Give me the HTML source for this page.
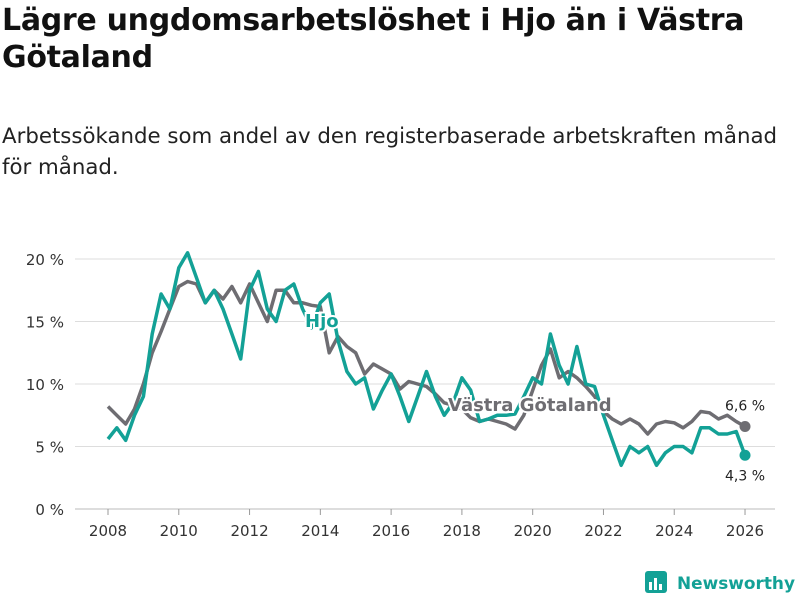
<!DOCTYPE html>
<html><head><meta charset="utf-8"><style>
body{margin:0;width:800px;height:600px;background:#fff;font-family:"Liberation Sans","DejaVu Sans",sans-serif;overflow:hidden;position:relative}
h1{position:absolute;left:2px;top:2px;margin:0;font-size:30px;line-height:37px;font-weight:bold;color:#111;font-family:"DejaVu Sans",sans-serif;letter-spacing:-0.3px}
.sub{position:absolute;left:2px;top:121px;font-size:21.3px;line-height:31px;color:#222;font-family:"DejaVu Sans",sans-serif}
svg{position:absolute;left:0;top:0}
</style></head><body>
<h1>Lägre ungdomsarbetslöshet i Hjo än i Västra<br>Götaland</h1>
<div class="sub">Arbetssökande som andel av den registerbaserade arbetskraften månad<br>för månad.</div>
<svg id="c" width="800" height="600"></svg>
<script>
const startYear=2008, step=0.25;
const vg=[8.2,7.5,6.8,8.0,10,12.5,14.2,16.0,17.8,18.2,18.0,16.5,17.5,16.8,17.8,16.5,18,16.5,15,17.5,17.5,16.5,16.5,16.3,16.2,12.5,13.8,13,12.5,10.8,11.6,11.2,10.8,9.6,10.2,10.0,9.8,9.2,8.5,8.3,8.0,7.3,7.0,7.2,7.0,6.8,6.4,7.5,9.5,11.5,12.8,10.5,11,10.5,9.8,9.0,7.8,7.2,6.8,7.2,6.8,6.0,6.8,7.0,6.9,6.5,7.0,7.8,7.7,7.2,7.5,7.0,6.6];
const hjo=[5.6,6.5,5.5,7.5,9,14,17.2,16,19.3,20.5,18.5,16.5,17.5,16,14,12,17.5,19,16,15,17.5,18,16,14.5,16.5,17.2,13.5,11,10,10.5,8,9.5,10.8,9,7,9,11,9,7.5,8.5,10.5,9.5,7,7.2,7.5,7.5,7.6,9,10.5,10,14,11.5,10,13,10,9.8,7.5,5.5,3.5,5.0,4.5,5.0,3.5,4.5,5,5.0,4.5,6.5,6.5,6.0,6.0,6.2,4.3];
const yTicks=[0,5,10,15,20];
const xTicks=[2008,2010,2012,2014,2016,2018,2020,2022,2024,2026];
const X=t=>108+(t-2008)*35.39, Y=v=>509-v*12.5;
const NS="http://www.w3.org/2000/svg", svg=document.getElementById('c');
function mk(tag,at,parent){const e=document.createElementNS(NS,tag);for(const k in at)e.setAttribute(k,at[k]);(parent||svg).appendChild(e);return e;}
yTicks.forEach(v=>{
 const l=mk('line',{x1:75,x2:775,y1:Y(v),y2:Y(v),stroke:v===0?'#bbb':'#ddd','stroke-width':1});
 
 
 const t=mk('text',{x:64,y:Y(v)+6,'text-anchor':'end','font-size':15,fill:'#333','font-family':'DejaVu Sans,sans-serif'});
 t.textContent=v+' %';
 
 
});
xTicks.forEach(yr=>{
 const l=mk('line',{x1:X(yr),x2:X(yr),y1:509,y2:515,stroke:'#999'});
 
 
 const t=mk('text',{x:X(yr),y:536,'text-anchor':'middle','font-size':15,fill:'#333','font-family':'DejaVu Sans,sans-serif'});
 t.textContent=yr;
 
 
});
function path(arr){return arr.map((v,i)=>(i?'L':'M')+X(startYear+i*step).toFixed(1)+','+Y(v).toFixed(1)).join('');}
const pg=mk('path',{d:path(vg),fill:'none',stroke:'#6e6d72','stroke-width':3.5,'stroke-linejoin':'round'});


const ph=mk('path',{d:path(hjo),fill:'none',stroke:'#13a196','stroke-width':3.5,'stroke-linejoin':'round'});


const lx=X(startYear+(vg.length-1)*step);
const d1=mk('circle',{cx:lx,cy:Y(vg[vg.length-1]),r:5.5,fill:'#6e6d72'});


const d2=mk('circle',{cx:lx,cy:Y(hjo[hjo.length-1]),r:5.5,fill:'#13a196'});


const e1=mk('text',{x:lx,y:Y(vg[vg.length-1])-16,'text-anchor':'middle','font-size':14,fill:'#222','font-family':'DejaVu Sans,sans-serif'});
e1.textContent=String(vg[vg.length-1]).replace('.',',')+' %';


const e2=mk('text',{x:lx,y:Y(hjo[hjo.length-1])+25,'text-anchor':'middle','font-size':14,fill:'#222','font-family':'DejaVu Sans,sans-serif'});
e2.textContent=String(hjo[hjo.length-1]).replace('.',',')+' %';


const s1=mk('text',{x:305,y:327,'font-size':18,'font-weight':'bold',fill:'#13a196',stroke:'#fff','stroke-width':4,'paint-order':'stroke','font-family':'DejaVu Sans,sans-serif'});
s1.textContent='Hjo';


const s2=mk('text',{x:448,y:411,'font-size':18,'font-weight':'bold',fill:'#6e6d72',stroke:'#fff','stroke-width':4,'paint-order':'stroke','font-family':'DejaVu Sans,sans-serif'});
s2.textContent='Västra Götaland';


</script>
<svg width="800" height="600">
<rect x="645" y="571" width="22" height="22" rx="3" fill="#13a196"/>
<rect x="649" y="582" width="3" height="8" fill="#fff"/><rect x="654" y="578" width="3" height="12" fill="#fff"/><rect x="659" y="584" width="3" height="6" fill="#fff"/>
<text x="677" y="589" font-size="17" font-weight="bold" fill="#13a196" font-family="DejaVu Sans,sans-serif" textLength="118" lengthAdjust="spacingAndGlyphs">Newsworthy</text>
</svg>
</body></html>
